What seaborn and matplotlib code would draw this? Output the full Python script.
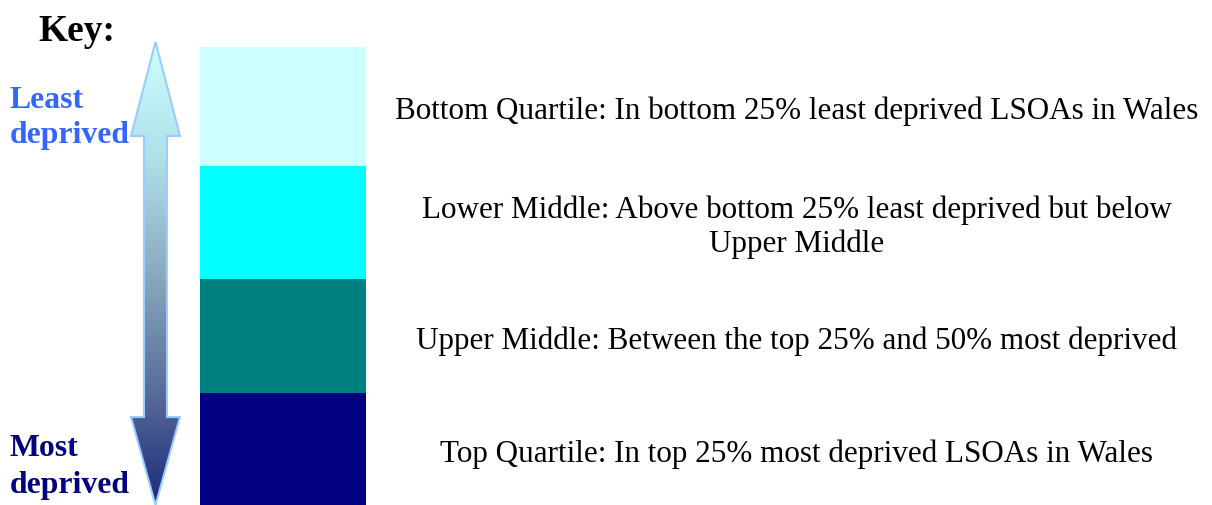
import numpy as np
import matplotlib.pyplot as plt
import seaborn as sns
from matplotlib.patches import Polygon
from matplotlib.colors import LinearSegmentedColormap

# key bands, top (least deprived) to bottom (most deprived)
quartiles = ["Bottom Quartile", "Lower Middle", "Upper Middle", "Top Quartile"]
band_colors = ["#CCFFFF", "#00FFFF", "#008080", "#000080"]
band_heights = [119, 113, 114, 112]
descriptions = [
    "Bottom Quartile: In bottom 25% least deprived LSOAs in Wales",
    "Lower Middle: Above bottom 25% least deprived but below\nUpper Middle",
    "Upper Middle: Between the top 25% and 50% most deprived",
    "Top Quartile: In top 25% most deprived LSOAs in Wales",
]

sns.set_theme(style="white")
plt.rcParams["font.family"] = ["Liberation Serif", "DejaVu Serif"]

fig = plt.figure(figsize=(12.12, 5.06), dpi=100)
ax = fig.add_axes([0, 0, 1, 1])
ax.set_xlim(0, 1212)
ax.set_ylim(506, 0)
ax.axis("off")

# stacked colour bands
bottoms = np.cumsum([48] + band_heights[:-1])
ax.bar([283] * 4, band_heights, bottom=bottoms, width=166, color=band_colors,
       edgecolor="none")

# descriptions centred on each band
for desc, b, h in zip(descriptions, bottoms, band_heights):
    ax.text(797, b + h / 2 + 4, desc, ha="center", va="center", fontsize=22.4,
            color="black", linespacing=1.2)

# double-headed gradient arrow
cx, top, bot = 155.5, 43, 506
hw, sw = 24.5, 11.5
head_top, head_bot = 137, 418
pts = [(cx, top), (cx + hw, head_top), (cx + sw, head_top), (cx + sw, head_bot),
       (cx + hw, head_bot), (cx, bot), (cx - hw, head_bot), (cx - sw, head_bot),
       (cx - sw, head_top), (cx - hw, head_top)]
cmap = LinearSegmentedColormap.from_list(
    "arrow", ["#CCFFFF", "#B0E0E8", "#8AAABF", "#5A6E9A", "#1C2A7A"])
grad = np.linspace(0, 1, 256).reshape(-1, 1)
im = ax.imshow(grad, cmap=cmap, extent=[cx - hw, cx + hw, bot, top],
               aspect="auto", zorder=2)
arrow = Polygon(pts, closed=True, facecolor="none", edgecolor="#99CCFF",
                linewidth=1.5, zorder=3)
ax.add_patch(arrow)
im.set_clip_path(arrow)

# labels
ax.text(77, 31, "Key:", ha="center", va="center", fontsize=27,
        fontweight="bold", color="black")
ax.text(10, 118, "Least\ndeprived", ha="left", va="center", fontsize=22.9,
        fontweight="bold", color="#3366FF", linespacing=1.3)
ax.text(10, 467, "Most\ndeprived", ha="left", va="center", fontsize=22.9,
        fontweight="bold", color="#000080", linespacing=1.4)

fig.savefig("out.png", dpi=100)
